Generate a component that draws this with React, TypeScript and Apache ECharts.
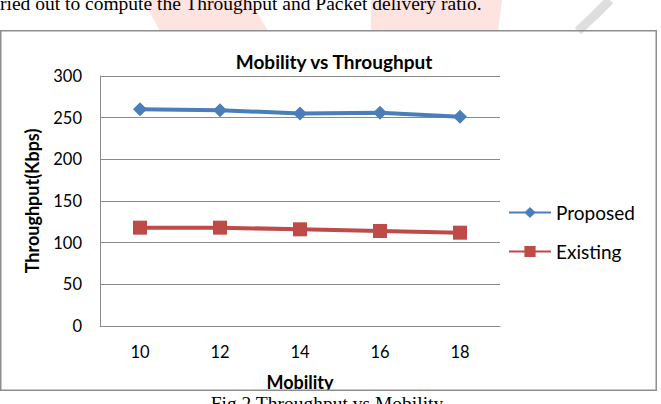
import React, { useEffect, useRef } from "react";
import * as echarts from "echarts";

const mobility = ["10", "12", "14", "16", "18"];
const proposed = [260, 259, 255, 256, 251];
const existing = [118, 118, 116, 114, 112];
const yTicks = { min: 0, max: 300, interval: 50 };

const FONT = "Lato, 'Noto Sans', sans-serif";
const SERIF = "'Liberation Serif', 'DejaVu Serif', serif";
const BLUE = "#4a7ebb";
const RED = "#be4b48";
const GRID = "#8a8a8a";

export default function App() {
  const ref = useRef<HTMLDivElement>(null);

  useEffect(() => {
    if (!ref.current) return;
    const chart = echarts.init(ref.current, undefined, { renderer: "svg" });
    chart.setOption({
      animation: false,
      backgroundColor: "#ffffff",
      title: {
        text: "Mobility vs Throughput",
        left: 329,
        textAlign: "center",
        top: 47,
        textStyle: { fontFamily: FONT, fontSize: 19, fontWeight: "bold", color: "#000" },
      },
      legend: {
        orient: "vertical",
        left: 503,
        top: 198,
        itemWidth: 42,
        itemHeight: 14,
        itemGap: 20,
        textStyle: { fontFamily: FONT, fontSize: 19, color: "#000" },
        data: ["Proposed", "Existing"],
      },
      grid: { left: 100, right: 161, top: 76, bottom: 78 },
      xAxis: {
        type: "category",
        data: mobility,
        boundaryGap: true,
        name: "Mobility",
        nameLocation: "middle",
        nameGap: 47,
        nameTextStyle: { fontFamily: FONT, fontSize: 18, fontWeight: "bold", color: "#000" },
        axisLine: { lineStyle: { color: GRID, width: 1 } },
        axisTick: { show: false },
        axisLabel: { margin: 17, fontFamily: FONT, fontSize: 16.5, color: "#000" },
      },
      yAxis: {
        type: "value",
        min: yTicks.min,
        max: yTicks.max,
        interval: yTicks.interval,
        name: "Throughput(Kbps)",
        nameLocation: "middle",
        nameGap: 59,
        nameTextStyle: { fontFamily: FONT, fontSize: 18, fontWeight: "bold", color: "#000" },
        axisLine: { show: true, lineStyle: { color: GRID, width: 1 } },
        axisTick: { show: false },
        axisLabel: { margin: 18, fontFamily: FONT, fontSize: 16.5, color: "#000" },
        splitLine: { lineStyle: { color: GRID, width: 1 } },
      },
      series: [
        {
          name: "Proposed",
          type: "line",
          data: proposed,
          symbol: "diamond",
          symbolSize: 14,
          lineStyle: { color: BLUE, width: 4 },
          itemStyle: { color: BLUE },
        },
        {
          name: "Existing",
          type: "line",
          data: existing,
          symbol: "rect",
          symbolSize: 14,
          lineStyle: { color: RED, width: 4 },
          itemStyle: { color: RED },
        },
      ],
      graphic: [
        // faint watermark showing through above the chart frame
        {
          type: "polygon",
          z: 0,
          shape: { points: [[143, 0], [250, 0], [268, 31], [160, 31]] },
          style: { fill: "#fde4e0" },
        },
        {
          type: "polygon",
          z: 0,
          shape: { points: [[371, 0], [502, 0], [498, 31], [371, 31]] },
          style: { fill: "#fde4e0" },
        },
        {
          type: "polyline",
          z: 0,
          shape: { points: [[610, 0], [596, 14], [578, 31]] },
          style: { stroke: "#dedede", lineWidth: 9, fill: "none" },
        },
        {
          type: "text",
          z: 5,
          x: 0,
          y: 3,
          style: {
            text: "ried out to compute the Throughput and Packet delivery ratio.",
            font: `19.5px ${SERIF}`,
            fill: "#000",
            verticalAlign: "middle",
          },
        },
        {
          type: "rect",
          z: 50,
          shape: { x: 0, y: 391, width: 661, height: 13 },
          style: { fill: "#ffffff" },
        },
        {
          type: "rect",
          z: 60,
          shape: { x: 0.75, y: 30.75, width: 655.5, height: 359.5 },
          style: { stroke: "#8e8e8e", lineWidth: 1.5, fill: "none" },
        },
        {
          type: "text",
          z: 70,
          x: 327,
          y: 393,
          style: {
            text: "Fig.2 Throughput vs Mobility",
            font: `19.5px ${SERIF}`,
            fill: "#000",
            align: "center",
            verticalAlign: "top",
          },
        },
      ],
    });
    return () => chart.dispose();
  }, []);

  return (
    <div
      ref={ref}
      style={{ position: "fixed", left: 0, top: 0, width: 661, height: 404 }}
    />
  );
}
